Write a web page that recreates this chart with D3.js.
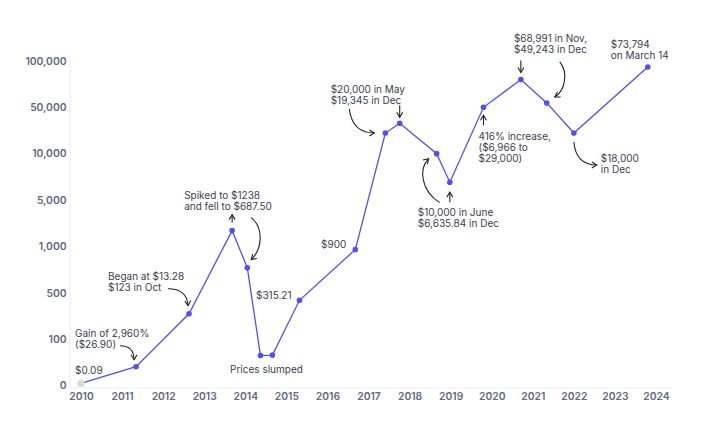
<!DOCTYPE html>
<html><head><meta charset="utf-8">
<script src="https://cdn.jsdelivr.net/npm/d3@7"></script>
<style>
html,body{margin:0;padding:0;background:#fff;}
svg{display:block;font-family:Inter,"Noto Sans",sans-serif;}
</style></head>
<body><svg id="c" width="702" height="430"></svg>
<script>
// ---- data ----
const years  = [2010.0, 2011.34, 2012.63, 2013.68, 2014.05, 2014.37, 2014.66, 2015.32, 2016.68, 2017.41, 2017.76, 2018.66, 2018.98, 2019.8, 2020.71, 2021.34, 2022.0, 2023.8];
const prices = [5, 41, 320, 2370, 770, 65, 66, 436, 968, 27800, 36200, 10050, 6930, 50000, 79900, 54700, 27800, 93500];
const yTickValues = [0, 100, 500, 1000, 5000, 10000, 50000, 100000];
const xTickValues = [2010,2011,2012,2013,2014,2015,2016,2017,2018,2019,2020,2021,2022,2023,2024];
const notes = [
  {i:0,  lines:["$0.09"], dx:-6, dy:-13},
  {i:1,  lines:["Gain of 2,960%","($26.90)"], dx:-61, dy:-33},
  {i:2,  lines:["Began at $13.28","$123 in Oct"], dx:-81, dy:-37},
  {i:3,  lines:["Spiked to $1238","and fell to $687.50"], dx:-48, dy:-35},
  {i:7,  lines:["$315.21"], dx:-8, dy:-5, anchor:"end"},
  {i:5,  lines:["Prices slumped"], dx:6, dy:14, anchor:"middle"},
  {i:8,  lines:["$900"], dx:-9, dy:-5, anchor:"end"},
  {i:10, lines:["$20,000 in May","$19,345 in Dec"], dx:-69, dy:-34},
  {i:12, lines:["$10,000 in June","$6,635.84 in Dec"], dx:-32, dy:30},
  {i:13, lines:["416% increase,","($6,966 to","$29,000)"], dx:-5, dy:29},
  {i:14, lines:["$68,991 in Nov,","$49,243 in Dec"], dx:-7, dy:-41},
  {i:17, lines:["$73,794","on March 14"], dx:-37, dy:-23},
  {i:16, lines:["$18,000","in Dec"], dx:27, dy:25}
];
const arrows = [
  {i:1,  d:[[-16,-21],[-2,-21],[-2,-7]]},
  {i:2,  d:[[-21,-25],[-2,-25],[-1,-8]]},
  {i:3,  d:[[0,-8],[0,-16]]},
  {i:3,  d:[[19,-13],[32,-3],[30,19],[19,29]]},
  {i:10, d:[[0,-18],[0,-6]]},
  {i:9,  d:[[-36,-24],[-33,0],[-11,0]]},
  {i:12, d:[[0,20],[0,10]]},
  {i:11, d:[[3,49],[-16,37],[-18,15],[-8,5]]},
  {i:13, d:[[0,18],[0,8]]},
  {i:14, d:[[0,-19],[0,-7]]},
  {i:15, d:[[13,-41],[22,-30],[18,-12],[8,-6]]},
  {i:16, d:[[0,9],[2,32],[23,32]]}
];

const svg = d3.select("#c");
const x = d3.scaleLinear().domain([2010,2024]).range([81,656]);
const yStep = 46.4, yBase = 385.7;
const y = d3.scaleLinear().domain(yTickValues).range(yTickValues.map((v,k)=>yBase - k*yStep));

// axis lines
svg.append("line").attr("x1",70).attr("x2",70).attr("y1",55).attr("y2",388).attr("stroke","#eceef2").attr("stroke-width",1.2);
svg.append("line").attr("x1",70).attr("x2",672).attr("y1",388).attr("y2",388).attr("stroke","#eceef2").attr("stroke-width",1.2);

const tickStyle = sel => sel.attr("fill","#5e6883").attr("font-size","10.3px").attr("font-weight",600).attr("font-family","Inter,sans-serif");

// y axis
const yAxis = d3.axisLeft(y).tickValues(yTickValues).tickFormat(d3.format(",")).tickSize(0).tickPadding(3.5);
const gy = svg.append("g").attr("transform","translate(70,0)").call(yAxis);
gy.select(".domain").remove();
tickStyle(gy.selectAll("text"));

// x axis
const xAxis = d3.axisBottom(x).tickValues(xTickValues).tickFormat(d3.format("d")).tickSize(0).tickPadding(4.5);
const gx = svg.append("g").attr("transform","translate(0,388)").call(xAxis);
gx.select(".domain").remove();
tickStyle(gx.selectAll("text"));

const pts = years.map((yr,k)=>[x(yr), y(prices[k])]);
const blue = "#5050f0";

// line
svg.append("path").datum(pts).attr("fill","none").attr("stroke",blue).attr("stroke-width",1.3)
  .attr("d", d3.line());

// points
svg.selectAll("circle.p").data(pts).enter().append("circle")
  .attr("cx",d=>d[0]).attr("cy",d=>d[1]).attr("r",(d,k)=>k===0?3.6:2.8)
  .attr("fill",(d,k)=>k===0?"#d9d9dc":blue);

// marker
svg.append("defs").append("marker").attr("id","ah").attr("viewBox","0 0 8 8").attr("refX",6).attr("refY",4)
  .attr("markerWidth",8).attr("markerHeight",8).attr("markerUnits","userSpaceOnUse").attr("orient","auto")
  .append("path").attr("d","M1,1 L6,4 L1,7").attr("fill","none").attr("stroke","#222").attr("stroke-width",1.1);

arrows.forEach(a=>{
  const [px,py] = pts[a.i];
  const p = a.d.map(q=>[px+q[0], py+q[1]]);
  let d = `M${p[0][0]},${p[0][1]}`;
  if(p.length===2) d += `L${p[1][0]},${p[1][1]}`;
  else if(p.length===3) d += `Q${p[1][0]},${p[1][1]} ${p[2][0]},${p[2][1]}`;
  else d += `C${p[1][0]},${p[1][1]} ${p[2][0]},${p[2][1]} ${p[3][0]},${p[3][1]}`;
  svg.append("path").attr("d",d).attr("fill","none").attr("stroke","#222").attr("stroke-width",1.1).attr("marker-end","url(#ah)");
});

// annotations
const lh = 11;
notes.forEach(n=>{
  let [px,py] = pts[n.i];
  if(n.anchor==="middle") px = (pts[n.i][0]+pts[n.i+1][0])/2 - 6;
  const t = svg.append("text").attr("font-size","10px").attr("fill","#3a3e4f")
    .attr("text-anchor", n.anchor||"start");
  n.lines.forEach((l,k)=>{
    t.append("tspan").attr("x",px+n.dx).attr("y",py+n.dy+k*lh+3.6).text(l);
  });
});
</script></body></html>
